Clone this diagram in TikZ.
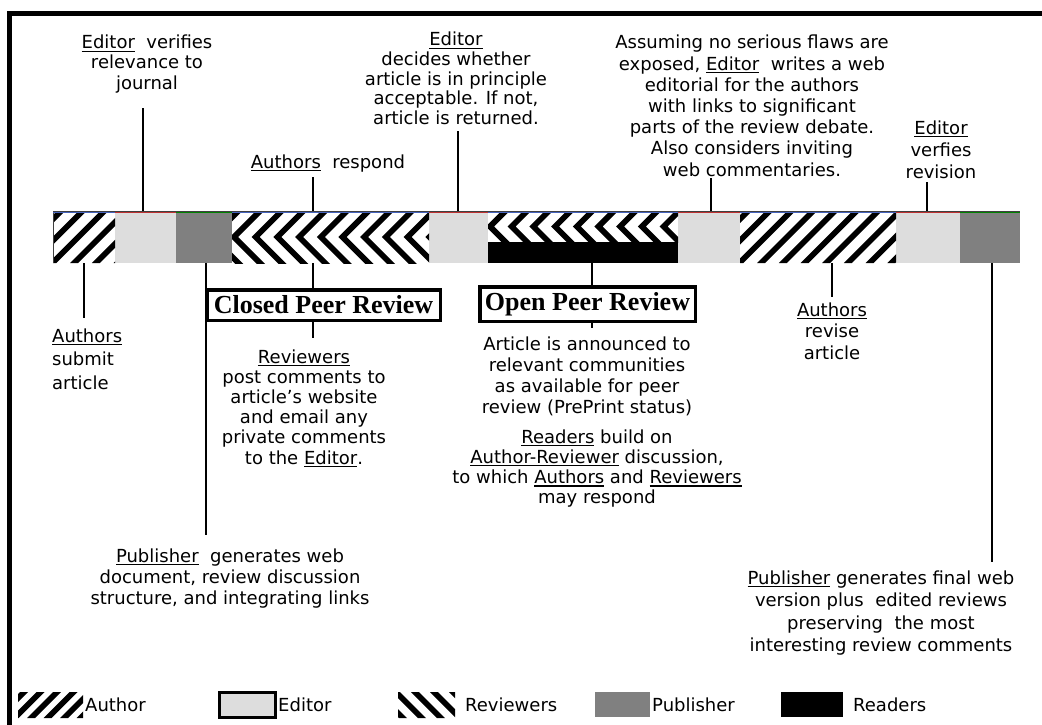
\documentclass[tikz,border=0pt]{standalone}
\usepackage{fontspec}
\setmainfont{DejaVu Sans}
\newfontfamily\tmsfont{Liberation Serif}
\newcommand\undl[1]{\vtop{\hbox{#1}\kern1.6pt\hrule height 1.1pt}}
\definecolor{edgray}{RGB}{221,221,221}
\definecolor{pubgray}{RGB}{128,128,128}
\definecolor{topblue}{RGB}{70,100,190}
\definecolor{topred}{RGB}{190,50,50}
\definecolor{topgreen}{RGB}{0,130,0}
\tikzset{
  txt/.style={inner sep=0pt, font=\fontsize{18}{#1}\selectfont},
  txt/.default=21,
  conn/.style={line width=1.2pt, black},
  ttl/.style={draw, line width=3.5pt, inner sep=0pt, fill=white,
    font=\tmsfont\bfseries\fontsize{26}{28}\selectfont},
  chev/.style={line width=5.7pt, line join=miter, miter limit=4},
}
\begin{document}
\begin{tikzpicture}[x=1pt,y=-1pt]
\useasboundingbox (0,0) rectangle (1042,725);
% frame
\draw[line width=5pt, line join=miter] (1050,13.5) -- (9.8,13.5) -- (9.8,735);

% ---------- bar ----------
\fill[edgray] (115,211) rectangle (176,263);
\fill[edgray] (429,211) rectangle (488,263);
\fill[edgray] (678,211) rectangle (740,263);
\fill[edgray] (896,211) rectangle (960,263);
\fill[pubgray] (176,211) rectangle (232,263);
\fill[pubgray] (960,211) rectangle (1020,263);
\fill[black] (488,242) rectangle (678,263);
% author stripes
\begin{scope}
\clip (53,211) rectangle (115,263);
\foreach \k in {0,...,6} \fill ({5+\k*21.7},263) -- ++(8,0) -- ++(52,-52) -- ++(-8,0) -- cycle;
\end{scope}
\begin{scope}
\clip (740,211) rectangle (896,263);
\foreach \k in {0,...,10} \fill ({692+\k*21.7},263) -- ++(8,0) -- ++(52,-52) -- ++(-8,0) -- cycle;
\end{scope}
% reviewer chevrons
\begin{scope}
\clip (232,211) rectangle (429,263);
\foreach \k in {-1,...,9} \draw[chev] ({234+\k*21.7+29},208) -- ({234+\k*21.7},237) -- ({234+\k*21.7+29},266);
\end{scope}
\begin{scope}
\clip (488,211) rectangle (678,242);
\foreach \k in {-1,...,9} \draw[chev] ({490+\k*21.7+18},208.5) -- ({490+\k*21.7},226.5) -- ({490+\k*21.7+18},244.5);
\end{scope}
% top edge
\draw[line width=1pt, black!75] (53,263) -- (53,211) -- (1020,211);
\draw[line width=1pt, topblue] (53,212.5) -- (115,212.5);
\draw[line width=1pt, topred] (115,212.5) -- (176,212.5);
\draw[line width=1pt, topgreen] (176,212.5) -- (232,212.5);
\draw[line width=1pt, topblue] (232,212.5) -- (429,212.5);
\draw[line width=1pt, topred] (429,212.5) -- (488,212.5);
\draw[line width=1pt, topblue] (488,212.5) -- (678,212.5);
\draw[line width=1pt, topred] (678,212.5) -- (740,212.5);
\draw[line width=1pt, topblue] (740,212.5) -- (896,212.5);
\draw[line width=1pt, topred] (896,212.5) -- (960,212.5);
\draw[line width=1pt, topgreen] (960,212.5) -- (1020,212.5);

% ---------- texts above ----------
\node[txt=20, anchor=base] (ev) at (147,49) {\begin{tabular}[t]{@{}c@{}}\undl{Editor}\ \ verifies\\ relevance to\\ journal\end{tabular}};
\node[txt, anchor=base] (ar) at (328,168) {\undl{Authors}\ \ respond};
\node[txt=19.6, anchor=base] (ed) at (456,46) {\begin{tabular}[t]{@{}c@{}}\undl{Editor}\\ decides whether\\ article is in principle\\ acceptable. If not,\\ article is returned.\end{tabular}};
\node[txt=21.2, anchor=base] (as) at (752,49) {\begin{tabular}[t]{@{}c@{}}Assuming no serious flaws are\\ exposed, \undl{Editor}\ \ writes a web\\ editorial for the authors\\ with links to significant\\ parts of the review debate.\\ Also considers inviting\\ web commentaries.\end{tabular}};
\node[txt=22, anchor=base] (vr) at (941,134) {\begin{tabular}[t]{@{}c@{}}\undl{Editor}\\ verfies\\ revision\end{tabular}};

% ---------- texts below ----------
\node[txt=23.5, anchor=base west] (sub) at (52,342) {\begin{tabular}[t]{@{}l@{}}\undl{Authors}\\ submit\\ article\end{tabular}};
\node[txt=21, anchor=base] (pl) at (230,562) {\begin{tabular}[t]{@{}c@{}}\undl{Publisher}\ \ generates web\\ document, review discussion\\ structure, and integrating links\end{tabular}};
\node[ttl, minimum width=233.5pt, minimum height=30.5pt] (cpr) at (323.5,305) {Closed Peer Review};
\node[txt=20.2, anchor=base] (rv) at (304,363) {\begin{tabular}[t]{@{}c@{}}\undl{Reviewers}\\ post comments to\\ article{\char"0027}s website\\ and email any\\ private comments\\ to the \undl{Editor}.\end{tabular}};
\node[ttl, minimum width=215.5pt, minimum height=34.5pt] (opr) at (587.5,304) {Open Peer Review};
\node[txt=21, anchor=base] (ac) at (587,350) {\begin{tabular}[t]{@{}c@{}}Article is announced to\\ relevant communities\\ as available for peer\\ review (PrePrint status)\end{tabular}};
\node[txt=20.3, anchor=base] (rd) at (597,443) {\begin{tabular}[t]{@{}c@{}}\undl{Readers} build on\\ \undl{Author-Reviewer} discussion,\\ to which \undl{Authors} and \undl{Reviewers}\\ may respond\end{tabular}};
\node[txt=21.5, anchor=base] (rvs) at (832,316) {\begin{tabular}[t]{@{}c@{}}\undl{Authors}\\ revise\\ article\end{tabular}};
\node[txt=22.5, anchor=base] (pr) at (881,584) {\begin{tabular}[t]{@{}c@{}}\undl{Publisher} generates final web\\ version plus\ \ edited reviews\\ preserving\ \ the most\\ interesting review comments\end{tabular}};

% ---------- connector coordinates ----------
\coordinate (evT) at (143,108);  \coordinate (evB) at (143,211);
\coordinate (arT) at (313,177);  \coordinate (arB) at (313,211);
\coordinate (edT) at (458,131);  \coordinate (edB) at (458,211);
\coordinate (asT) at (711,178);  \coordinate (asB) at (711,211);
\coordinate (vrT) at (927,182);  \coordinate (vrB) at (927,211);
\coordinate (subT) at (84,263);  \coordinate (subB) at (84,318);
\coordinate (plT) at (206,263);  \coordinate (plB) at (206,535);
\coordinate (cprT) at (313,263); \coordinate (cprB) at (313,338);
\coordinate (oprT) at (592,263); \coordinate (oprB) at (592,328);
\coordinate (rvsT) at (832,263); \coordinate (rvsB) at (832,297);
\coordinate (prT) at (992,263);  \coordinate (prB) at (992,562);

\draw[conn] (evT) -- (evB);
\draw[conn] (arT) -- (arB);
\draw[conn] (edT) -- (edB);
\draw[conn] (asT) -- (asB);
\draw[conn] (vrT) -- (vrB);
\draw[conn] (subT) -- (subB);
\draw[conn] (plT) -- (plB);
\draw[conn] (cprT) -- (cpr.north -| cprT);
\draw[conn] (cpr.south -| cprB) -- (cprB);
\draw[conn] (oprT) -- (opr.north -| oprT);
\draw[conn] (opr.south -| oprB) -- (oprB);
\draw[conn] (rvsT) -- (rvsB);
\draw[conn] (prT) -- (prB);

% ---------- legend ----------
\begin{scope}
\clip (18,692) rectangle (83,718);
\foreach \k in {0,...,6} \fill ({-6+\k*16.5},718) -- ++(8,0) -- ++(26,-26) -- ++(-8,0) -- cycle;
\end{scope}
\node[txt, anchor=base west] (lga) at (85,711) {Author};
\draw[line width=3pt, fill=edgray] (219.5,692.5) rectangle (275.5,717.5);
\node[txt, anchor=base west] (lge) at (278,711) {Editor};
\begin{scope}
\clip (398,692) rectangle (455,718);
\foreach \k in {-1,...,3} \fill ({392+\k*19},692) -- ++(8,0) -- ++(26,26) -- ++(-8,0) -- cycle;
\end{scope}
\node[txt, anchor=base west] (lgr) at (465,711) {Reviewers};
\fill[pubgray] (595,692) rectangle (650,717);
\node[txt, anchor=base west] (lgp) at (652,711) {Publisher};
\fill[black] (781,692) rectangle (843,717);
\node[txt, anchor=base west] (lgd) at (853,711) {Readers};
\end{tikzpicture}
\end{document}
